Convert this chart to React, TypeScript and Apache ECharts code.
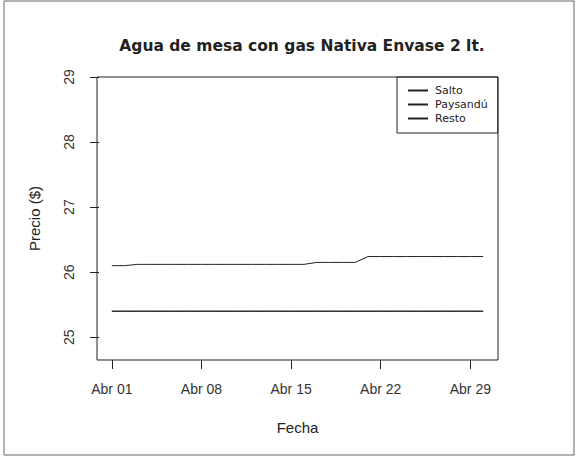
import React, { useEffect, useRef } from "react";
import * as echarts from "echarts";

const days = [1, 2, 3, 4, 5, 6, 7, 8, 9, 10, 11, 12, 13, 14, 15, 16, 17, 18, 19, 20, 21, 22, 23, 24, 25, 26, 27, 28, 29, 30];
const salto = [26.10, 26.10, 26.12, 26.12, 26.12, 26.12, 26.12, 26.12, 26.12, 26.12, 26.12, 26.12, 26.12, 26.12, 26.12, 26.12, 26.15, 26.15, 26.15, 26.15, 26.24, 26.24, 26.24, 26.24, 26.24, 26.24, 26.24, 26.24, 26.24, 26.24];
const paysandu = [25.40, 25.40, 25.40, 25.40, 25.40, 25.40, 25.40, 25.40, 25.40, 25.40, 25.40, 25.40, 25.40, 25.40, 25.40, 25.40, 25.40, 25.40, 25.40, 25.40, 25.40, 25.40, 25.40, 25.40, 25.40, 25.40, 25.40, 25.40, 25.40, 25.40];
const resto = [25.40, 25.40, 25.40, 25.40, 25.40, 25.40, 25.40, 25.40, 25.40, 25.40, 25.40, 25.40, 25.40, 25.40, 25.40, 25.40, 25.40, 25.40, 25.40, 25.40, 25.40, 25.40, 25.40, 25.40, 25.40, 25.40, 25.40, 25.40, 25.40, 25.40];
const seriesNames = ["Salto", "Paysandú", "Resto"];
const xTickDays = [1, 8, 15, 22, 29];
const xTickLabels = ["Abr 01", "Abr 08", "Abr 15", "Abr 22", "Abr 29"];
const yTicks = [25, 26, 27, 28, 29];

export default function App() {
  const ref = useRef<HTMLDivElement>(null);
  useEffect(() => {
    document.body.style.margin = "0";
    const chart = echarts.init(ref.current!, null, { renderer: "svg" });
    const font = "Liberation Sans";
    const ink = "#222";
    const mk = (vals: number[]) => days.map((d, i) => [d, vals[i]]);
    const lineSeries = [salto, paysandu, resto].map((vals, i) => ({
      name: seriesNames[i],
      type: "line",
      data: mk(vals),
      symbol: "none",
      lineStyle: { color: ink, width: 1 },
      itemStyle: { color: ink },
    }));
    chart.setOption({
      animation: false,
      backgroundColor: "#fff",
      title: {
        text: "Agua de mesa con gas Nativa Envase 2 lt.",
        left: 297,
        top: 33,
        textAlign: "center",
        textStyle: { fontFamily: "DejaVu Sans", fontWeight: "bold", fontSize: 15.5, color: ink },
      },
      legend: {
        orient: "vertical",
        left: 397,
        top: 77,
        padding: [8, 10, 9, 11],
        itemGap: 3,
        itemWidth: 20,
        itemHeight: 2,
        icon: "rect",
        borderColor: ink,
        borderWidth: 1,
        borderRadius: 0,
        data: seriesNames,
        textStyle: { fontFamily: "DejaVu Sans", fontSize: 11, color: ink, padding: [0, 0, 0, 2] },
      },
      grid: {
        left: 97,
        top: 77,
        right: 78,
        bottom: 97,
        show: true,
        borderColor: ink,
        borderWidth: 1,
      },
      xAxis: {
        type: "value",
        min: -0.16,
        max: 31.16,
        name: "Fecha",
        nameLocation: "middle",
        nameGap: 60,
        nameTextStyle: { fontFamily: font, fontSize: 15, color: ink },
        axisLine: { show: false },
        splitLine: { show: false },
        axisTick: { show: true, length: 9, customValues: xTickDays, lineStyle: { color: ink } },
        axisLabel: {
          customValues: xTickDays,
          margin: 22,
          fontFamily: font,
          fontSize: 14,
          color: "#333",
          formatter: (v: number) => xTickLabels[xTickDays.indexOf(v)] ?? "",
        },
      },
      yAxis: {
        type: "value",
        min: 24.65,
        max: 29,
        name: "Precio ($)",
        nameLocation: "middle",
        nameGap: 55,
        nameRotate: 90,
        nameTextStyle: { fontFamily: font, fontSize: 15, color: ink },
        axisLine: { show: false },
        splitLine: { show: false },
        axisTick: { show: true, length: 9, customValues: yTicks, lineStyle: { color: ink } },
        axisLabel: {
          customValues: yTicks,
          rotate: 90,
          margin: 21,
          fontFamily: font,
          fontSize: 14,
          color: "#333",
          formatter: (v: number) => String(v),
        },
      },
      graphic: [
        {
          type: "rect",
          shape: { x: 4, y: 1, width: 570, height: 454 },
          style: { fill: "none", stroke: "#666", lineWidth: 1 },
          silent: true,
        },
      ],
      series: lineSeries,
    });
    return () => chart.dispose();
  }, []);
  return <div ref={ref} style={{ width: 576, height: 457 }} />;
}
